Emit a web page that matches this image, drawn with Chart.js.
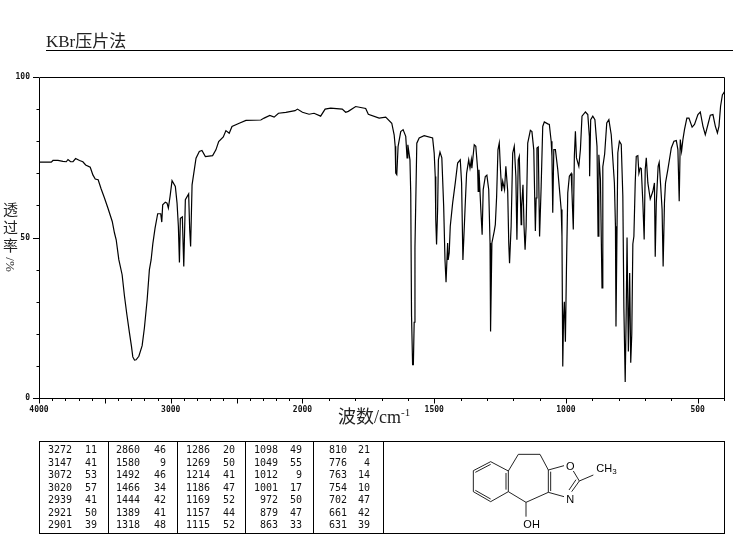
<!DOCTYPE html>
<html>
<head>
<meta charset="utf-8">
<title>KBr压片法</title>
<script src="https://cdn.jsdelivr.net/npm/chart.js@4"></script>
<style>
  html, body { margin: 0; padding: 0; background: #fff; }
  #page { position: relative; width: 737px; height: 539px; overflow: hidden; }
  #irChart { position: absolute; left: 0; top: 0; }
  .txt { position: absolute; color: #222; font-family: "Liberation Serif", "Noto Sans CJK SC", serif; white-space: nowrap; }
  #method { left: 46px; top: 32px; font-size: 17px; line-height: 20px; }
  #rule { position: absolute; left: 46px; top: 50px; width: 687px; height: 1px; background: #000; }
  #xTitle { left: 338px; top: 405px; font-size: 18px; line-height: 24px; }
  #xTitle sup { font-size: 11px; line-height: 0; }
  #yTitle { left: 3px; top: 201px; width: 15px; font-size: 15px; line-height: 18px; text-align: center; }
  #yTitle div { height: 18px; }
  #yTitle .turned { height: 19px; line-height: 15px; font-size: 13px; }
  #yTitle .turned span { display: block; width: 19px; transform: translate(-2px, 2px) rotate(90deg); }
  #peakBox { position: absolute; left: 39px; top: 441px; width: 684px; height: 91px; border: 1px solid #000; }
  .peakCol { position: absolute; top: 0; bottom: 0; width: 0; border-right: 1px solid #000; }
  .peakNum { position: absolute; width: 30px; height: 12px; text-align: right; font: 10px/12px "DejaVu Sans Mono", monospace; color: #111; }
  #structure { position: absolute; left: 440px; top: 435px; }
</style>
</head>
<body>
<div id="page">
  <canvas id="irChart" width="737" height="539"></canvas>
  <div class="txt" id="method">KBr压片法</div>
  <div id="rule"></div>
  <div class="txt" id="yTitle"><div>透</div><div>过</div><div>率</div><div class="turned"><span>/%</span></div></div>
  <div class="txt" id="xTitle">波数/cm<sup>-1</sup></div>
  <div id="peakBox"></div>
  <svg id="structure" width="297" height="104" viewBox="0 0 891 312" stroke="#000" stroke-width="2.6" fill="none">
    <path d="M100 107L152 80L205 108L205 170L152 200L100 170Z"/>
    <path d="M106 112L152 88M106 166L152 192M198 114L198 164"/>
    <path d="M205 108L235 58L300 58L325 105L325 172L258 202L205 170"/>
    <path d="M332 110L332 168"/>
    <path d="M325 105L372 92M400 108L418 138L395 170M408 134L387 165M325 172L372 185M418 138L460 120M258 202L258 245"/>
    <g fill="#000" stroke="none" font-family="'Liberation Sans', sans-serif" font-size="33">
      <text x="378" y="104">O</text>
      <text x="379" y="203">N</text>
      <text x="469" y="110">CH<tspan font-size="24" dy="6">3</tspan></text>
      <text x="250" y="278">OH</text>
    </g>
  </svg>
</div>
<script>
const wavenumbers = [
  4000, 3907, 3894, 3856, 3818, 3793, 3780, 3760, 3742, 3722,
  3692, 3667, 3646, 3611, 3591, 3573, 3551, 3528, 3503, 3477,
  3444, 3427, 3414, 3394, 3369, 3351, 3333, 3313, 3298, 3288,
  3275, 3263, 3242, 3217, 3200, 3179, 3162, 3149, 3136, 3119,
  3099, 3076, 3068, 3061, 3041, 3028, 3018, 3005, 2990, 2965,
  2952, 2942, 2934, 2927, 2912, 2901, 2889, 2864, 2856, 2849,
  2838, 2808, 2783, 2763, 2737, 2682, 2657, 2636, 2601, 2581,
  2556, 2535, 2480, 2429, 2316, 2291, 2248, 2215, 2182, 2126,
  2056, 2038, 2000, 1975, 1956, 1931, 1914, 1893, 1849, 1836,
  1826, 1798, 1760, 1750, 1709, 1684, 1661, 1652, 1648, 1646,
  1642, 1637, 1627, 1618, 1608, 1603, 1600, 1592, 1589, 1586,
  1582, 1579, 1576, 1573, 1566, 1557, 1538, 1506, 1500, 1496,
  1494, 1491, 1487, 1484, 1478, 1471, 1464, 1459, 1455, 1449,
  1447, 1443, 1439, 1430, 1420, 1411, 1401, 1396, 1391, 1383,
  1377, 1369, 1364, 1359, 1357, 1348, 1342, 1335, 1333, 1330,
  1323, 1318, 1314, 1306, 1300, 1293, 1288, 1286, 1281, 1272,
  1268, 1263, 1258, 1253, 1249, 1244, 1240, 1233, 1228, 1221,
  1217, 1214, 1208, 1202, 1196, 1190, 1186, 1181, 1177, 1170,
  1168, 1163, 1159, 1155, 1151, 1145, 1135, 1129, 1122, 1116,
  1113, 1110, 1105, 1100, 1094, 1088, 1082, 1069, 1063, 1056,
  1053, 1050, 1046, 1040, 1031, 1018, 1015, 1012, 1009, 1006,
  1002, 998, 993, 987, 980, 977, 972, 968, 964, 960,
  951, 945, 939, 926, 917, 911, 910, 906, 898, 890,
  882, 878, 875, 869, 863, 860, 853, 845, 837, 828,
  816, 812, 810, 803, 797, 790, 784, 780, 775, 771,
  768, 763, 758, 754, 750, 746, 742, 737, 733, 727,
  723, 718, 714, 708, 703, 699, 695, 689, 680, 670,
  664, 661, 657, 650, 646, 641, 635, 631, 626, 622,
  613, 600, 590, 581, 575, 570, 566, 561, 556, 550,
  541, 533, 521, 512, 499, 490, 480, 471, 461, 452,
  442, 433, 425, 419, 413, 406, 401, 400
];
const transmittance = [
  73.5, 73.5, 74, 74, 73.7, 73.6, 74.3, 73.6, 73.6, 74.6,
  74, 73.6, 72.6, 71.9, 69.5, 68.2, 68, 65.1, 62.3, 59.2,
  55, 51.4, 49.3, 43.1, 38.4, 31.7, 26, 20.2, 16.1, 12.8,
  11.8, 11.9, 13, 16.3, 21.8, 30.6, 40, 43, 48, 52.9,
  57.4, 57.4, 54.8, 60.2, 61, 60.7, 59.2, 62.8, 67.7, 65.9,
  60.7, 53.5, 42.2, 56, 56.4, 41, 61.8, 63.6, 52.4, 47.2,
  66.4, 74.7, 76.8, 77.1, 75.2, 75.5, 77.3, 79.9, 81.3, 83.3,
  82.5, 84.6, 85.6, 86.5, 86.6, 87.2, 88, 87.5, 88.7, 89,
  89.5, 90, 89, 88.4, 88.7, 87.8, 90, 90.3, 90, 89,
  89.3, 90.8, 90.2, 88.4, 87.2, 87.5, 85.6, 82, 78.4, 70.1,
  69.6, 78.4, 83, 83.6, 81.5, 74.8, 78.9, 74.2, 63.8, 25.6,
  10.4, 10.4, 23.6, 47, 79.4, 81, 81.7, 81, 76.3, 69,
  55.5, 47.8, 58.7, 74.2, 76.6, 74.8, 59.7, 43, 36.1, 48.3,
  43, 45.2, 53.5, 60.7, 67, 73.2, 74.2, 67, 43, 58.7,
  70, 74.2, 71.6, 74.2, 71.6, 78.9, 78.4, 71.1, 64.4, 71.1,
  58.7, 50.9, 64.9, 69, 69.4, 64.9, 48.3, 20.7, 48.3, 52,
  54, 62.8, 77.3, 79.4, 72.2, 64.4, 67.5, 64.9, 72.2, 64.4,
  48.3, 42, 53.5, 76.3, 78.4, 69, 49.3, 74.2, 75.3, 54,
  59.7, 66.4, 53.5, 46.2, 53.5, 79.4, 83.4, 83, 77.3, 52,
  62.3, 77.9, 78.2, 50.3, 65.9, 84.6, 86, 85.4, 85.2, 80,
  75.3, 57.7, 77.4, 77.4, 71.2, 58.7, 50.4, 9.8, 25, 30,
  17.5, 40, 63.9, 69.1, 69.9, 63.9, 52.5, 75.3, 83.1, 74.8,
  72.2, 77.4, 87.8, 89.1, 88.3, 81.5, 69.1, 86.7, 87.8, 86.7,
  78.4, 50.4, 75.8, 68, 34.3, 72, 76, 85.7, 86.7, 82,
  67, 53.5, 22.3, 76.4, 80, 79, 62.9, 28, 5, 27.7,
  50, 14.5, 38.9, 11, 20, 48, 50.4, 67, 75.3, 75.5,
  70, 71.7, 71.5, 60.8, 49.4, 71.2, 74.8, 67, 62, 64.4,
  67, 44, 60.8, 72.2, 73.4, 67, 58.7, 41, 60.8, 67,
  71.2, 77.9, 80, 80.2, 77.4, 61.3, 80.5, 76.9, 80.5, 83.6,
  87.2, 87.2, 84.4, 85.2, 88.3, 89.1, 84.7, 82, 85.2, 88.1,
  88.3, 84.7, 82.6, 84.7, 90.9, 94.5, 95, 95.4
];

// the x axis changes scale at 2000: one unit below it is twice as wide as above
const toAxis = wn => wn >= 2000 ? (4000 - wn) / 2 : 1000 + (2000 - wn);

const xTickValues = [
  4000, 3900, 3800, 3700, 3600, 3500, 3400, 3300, 3200, 3100,
  3000, 2900, 2800, 2700, 2600, 2500, 2400, 2300, 2200, 2100,
  2000, 1900, 1800, 1700, 1600, 1500, 1400, 1300, 1200, 1100,
  1000, 900, 800, 700, 600, 500, 400
];
const xTickLabels = [4000, 3000, 2000, 1500, 1000, 500];
const xLongTicks = [4000, 3500, 3000, 2500, 2000, 1500, 1000, 500];
const yTickValues = [0, 10, 20, 30, 40, 50, 60, 70, 80, 90, 100];
const yTickLabels = [0, 50, 100];

const peakWavenumbers = [
  [3272, 3147, 3072, 3020, 2939, 2921, 2901],
  [2860, 1580, 1492, 1466, 1444, 1389, 1318],
  [1286, 1269, 1214, 1186, 1169, 1157, 1115],
  [1098, 1049, 1012, 1001, 972, 879, 863],
  [810, 776, 763, 754, 702, 661, 631]
];
const peakValues = [
  [11, 41, 53, 57, 41, 50, 39],
  [46, 9, 46, 34, 42, 41, 48],
  [20, 50, 41, 47, 52, 44, 52],
  [49, 55, 9, 17, 50, 47, 33],
  [21, 4, 14, 10, 47, 42, 39]
];

// peak table under the chart, offsets are from the inside of the box
const colLines = [68, 137, 205, 273, 343];
const wnRight = [32, 100, 170, 238, 307];
const valRight = [57, 126, 195, 262, 330];
const peakBox = document.getElementById("peakBox");

function addNum(text, right, r) {
  const el = document.createElement("div");
  el.className = "peakNum";
  el.textContent = text;
  el.style.left = right - 30 + "px";
  el.style.top = 2 + r * 12.5 + "px";
  peakBox.appendChild(el);
}

peakWavenumbers.forEach((col, c) => {
  const line = document.createElement("div");
  line.className = "peakCol";
  line.style.left = colLines[c] + "px";
  peakBox.appendChild(line);
  col.forEach((wn, r) => {
    addNum(wn, wnRight[c], r);
    addNum(peakValues[c][r], valRight[c], r);
  });
});

// frame and the two lengths of tick marks, placed by the chart's scales
const frameAndTicks = {
  id: "frameAndTicks",
  afterDraw(chart) {
    const { ctx, chartArea: a, scales } = chart;
    ctx.save();
    ctx.strokeStyle = "#000";
    ctx.lineWidth = 1;
    ctx.beginPath();
    ctx.rect(a.left + 0.5, a.top + 0.5, a.right - a.left, a.bottom - a.top);
    xTickValues.forEach(wn => {
      const px = Math.round(scales.x.getPixelForValue(toAxis(wn))) + 0.5;
      ctx.moveTo(px, a.bottom);
      ctx.lineTo(px, a.bottom + (xLongTicks.includes(wn) ? 5.5 : 3));
    });
    yTickValues.forEach(v => {
      const py = Math.round(scales.y.getPixelForValue(v)) + 0.5;
      ctx.moveTo(a.left, py);
      ctx.lineTo(a.left - (yTickLabels.includes(v) ? 6 : 2.5), py);
    });
    ctx.stroke();
    ctx.restore();
  }
};

new Chart(document.getElementById("irChart"), {
  type: "line",
  data: {
    datasets: [{
      data: wavenumbers.map((wn, i) => ({ x: toAxis(wn), y: transmittance[i] })),
      borderColor: "#000",
      borderWidth: 1.2,
      pointRadius: 0,
      tension: 0,
      fill: false
    }]
  },
  options: {
    responsive: false,
    animation: false,
    parsing: false,
    layout: { padding: { left: 0, top: 77, right: 13, bottom: 121 } },
    plugins: { legend: { display: false }, tooltip: { enabled: false } },
    scales: {
      x: {
        type: "linear",
        min: 0,
        max: 2600,
        afterFit: s => { s.height = 20; },
        afterBuildTicks: s => { s.ticks = xTickValues.map(wn => ({ value: toAxis(wn), wn })); },
        grid: { display: false, drawTicks: false },
        border: { display: false },
        ticks: {
          autoSkip: false,
          maxRotation: 0,
          padding: 7,
          color: "#111",
          font: { family: "DejaVu Sans Mono", size: 8, weight: "bold" },
          callback: (v, i, ticks) => xTickLabels.includes(ticks[i].wn) ? String(ticks[i].wn) : ""
        }
      },
      y: {
        min: 0,
        max: 100,
        afterFit: s => { s.width = 39; },
        afterBuildTicks: s => { s.ticks = yTickValues.map(value => ({ value })); },
        grid: { display: false, drawTicks: false },
        border: { display: false },
        ticks: {
          autoSkip: false,
          padding: 9,
          color: "#111",
          font: { family: "DejaVu Sans Mono", size: 8, weight: "bold" },
          callback: v => yTickLabels.includes(v) ? String(v) : ""
        }
      }
    }
  },
  plugins: [frameAndTicks]
});
</script>
</body>
</html>
